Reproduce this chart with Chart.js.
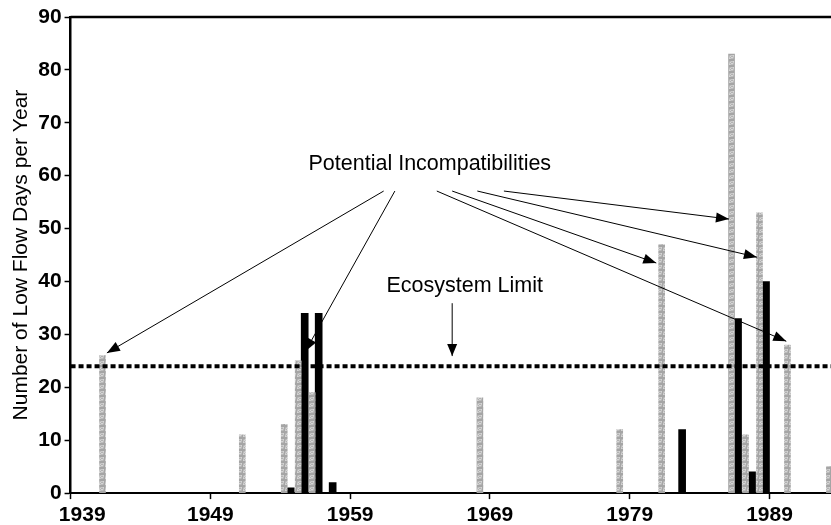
<!DOCTYPE html>
<html>
<head>
<meta charset="utf-8">
<script src="https://cdn.jsdelivr.net/npm/chart.js@4.4.1/dist/chart.umd.min.js"></script>
<style>
  html, body { margin: 0; padding: 0; background: #fff; }
  #wrap { width: 831px; height: 525px; }
</style>
</head>
<body>
<div id="wrap"><canvas id="lowflow"></canvas></div>
<script>
// low flow days per year
const grayYears = [1941, 1951, 1954, 1955, 1956, 1968, 1978, 1981, 1986, 1987, 1988, 1990, 1993];
const grayDays  = [26,   11,   13,   25,   19,   18,   12,   47,   83,   11,   53,   28,   5];
const blackYears = [1954, 1955, 1956, 1957, 1982, 1986, 1987, 1988];
const blackDays  = [1,    34,   34,   2,    12,   33,   4,    40];
const tickYears = [1939, 1949, 1959, 1969, 1979, 1989];
const ecosystemLimit = 24;
const firstYear = 1939;
const lastYear = 1993.4;

// annotation anchors, in data units (year, days)
const incompatLabel = [1964.7, 62.2];
const incompatFrom = [[1961.4, 57.1], [1962.2, 57.1], [1965.2, 57.1], [1966.3, 57.1], [1968.1, 57.1], [1970.0, 57.1]];
const incompatTo = [[1941.6, 26.5], [1955.8, 26.8], [1990.2, 28.7], [1980.9, 43.5], [1988.1, 44.6], [1986.1, 51.8]];
const limitLabel = [1967.2, 39.1];
const limitFrom = [1966.3, 35.9];
const limitTo = [1966.3, 25.9];

Chart.defaults.font.family = "'Liberation Sans', Arial, sans-serif";
Chart.defaults.color = '#000';

function speckle() {
    const c = document.createElement('canvas');
    c.width = 6; c.height = 6;
    const g = c.getContext('2d');
    for (let i = 0; i < 6; i++) {
        for (let j = 0; j < 6; j++) {
            const v = 165 + ((i * 5 + j * 3 + i * j) % 5) * 12;
            g.fillStyle = 'rgb(' + v + ',' + v + ',' + v + ')';
            g.fillRect(i, j, 1, 1);
        }
    }
    return g.createPattern(c, 'repeat');
}

function arrow(ctx, x0, y0, x1, y1, len, half) {
    ctx.beginPath();
    ctx.moveTo(x0, y0);
    ctx.lineTo(x1, y1);
    ctx.stroke();
    const a = Math.atan2(y1 - y0, x1 - x0);
    ctx.beginPath();
    ctx.moveTo(x1, y1);
    ctx.lineTo(x1 - len * Math.cos(a) + half * Math.sin(a), y1 - len * Math.sin(a) - half * Math.cos(a));
    ctx.lineTo(x1 - len * Math.cos(a) - half * Math.sin(a), y1 - len * Math.sin(a) + half * Math.cos(a));
    ctx.closePath();
    ctx.fill();
}

const notes = {
    id: 'notes',
    afterDatasetsDraw(chart) {
        const ctx = chart.ctx;
        const xs = chart.scales.x, ys = chart.scales.y;
        const px = (p) => [xs.getPixelForValue(p[0]), ys.getPixelForValue(p[1])];
        const area = chart.chartArea;
        ctx.save();
        // frame line along the top
        ctx.strokeStyle = '#000';
        ctx.lineWidth = 2.5;
        ctx.beginPath();
        ctx.moveTo(area.left, area.top);
        ctx.lineTo(area.right, area.top);
        ctx.stroke();

        ctx.fillStyle = '#000';
        ctx.lineWidth = 1;
        ctx.font = "21.5px 'Liberation Sans', Arial, sans-serif";
        ctx.textAlign = 'center';
        ctx.textBaseline = 'middle';
        let p = px(incompatLabel);
        ctx.fillText('Potential Incompatibilities', p[0], p[1]);
        p = px(limitLabel);
        ctx.fillText('Ecosystem Limit', p[0], p[1]);

        incompatFrom.forEach((f, i) => {
            const a = px(f), b = px(incompatTo[i]);
            arrow(ctx, a[0], a[1], b[0], b[1], 13, 5);
        });
        const a = px(limitFrom), b = px(limitTo);
        arrow(ctx, a[0], a[1], b[0], b[1], 12, 5);
        ctx.restore();
    }
};

const ctx = document.getElementById('lowflow').getContext('2d');

let lowflow = new Chart(ctx, {
    type: 'bar',
    data: {
        datasets: [{
            label: 'Limit',
            type: 'line',
            data: [{x: firstYear, y: ecosystemLimit}, {x: lastYear, y: ecosystemLimit}],
            borderColor: '#000',
            borderWidth: 4,
            borderDash: [5, 3],
            pointRadius: 0,
            order: 0,
        }, {
            label: 'Gray',
            data: grayYears.map((yr, i) => ({x: yr + 0.5, y: grayDays[i]})),
            backgroundColor: speckle(),
            barThickness: 6,
            order: 1,
        }, {
            label: 'Black',
            data: blackYears.map((yr, i) => ({x: yr + 0.5, y: blackDays[i]})),
            backgroundColor: '#000',
            barThickness: 7,
            order: 1,
        }]
    },
    options: {
        responsive: true,
        maintainAspectRatio: false,
        animation: false,
        layout: { padding: { left: 9, top: 17, right: 0, bottom: -7 } },
        plugins: {
            legend: { display: false },
            tooltip: { enabled: false },
        },
        scales: {
            x: {
                type: 'linear',
                min: firstYear,
                max: lastYear,
                offset: false,
                afterBuildTicks: (s) => { s.ticks = tickYears.map(v => ({value: v})); },
                ticks: {
                    font: { size: 21, weight: 'bold', lineHeight: 0.9 },
                    autoSkip: false,
                    maxRotation: 0,
                    padding: 7,
                    // the first label sits a little right of its tick in the original
                    callback: (v) => v === firstYear ? '    ' + v : String(v),
                },
                grid: {
                    offset: false,
                    drawOnChartArea: false,
                    color: '#000',
                    tickLength: 6,
                    tickWidth: 1.5,
                },
                border: { display: true, color: '#000', width: 2 },
            },
            y: {
                min: 0,
                max: 90,
                ticks: {
                    stepSize: 10,
                    font: { size: 21, weight: 'bold' },
                    padding: 3,
                },
                grid: {
                    drawOnChartArea: false,
                    color: '#000',
                    tickLength: 6,
                    tickWidth: 1.5,
                },
                border: { display: true, color: '#000', width: 2.5 },
                title: {
                    display: true,
                    text: 'Number of Low Flow Days per Year',
                    font: { size: 21 },
                    padding: { top: 0, bottom: 1 },
                },
            }
        }
    },
    plugins: [notes]
});
</script>
</body>
</html>
